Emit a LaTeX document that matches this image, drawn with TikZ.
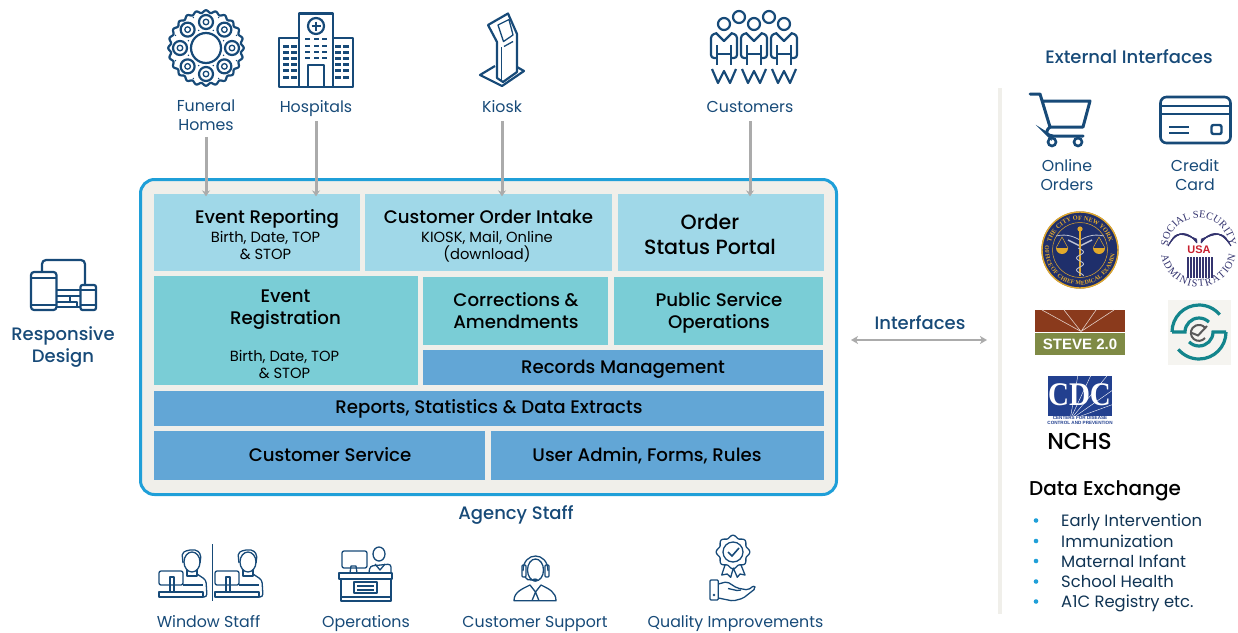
\documentclass[tikz,border=0pt]{standalone}
\usepackage{fontspec}
\setmainfont{Poppins}
\newfontfamily\medfont{Poppins Medium}
\newfontfamily\cdcfont{Liberation Serif}
\newfontfamily\logofont{Liberation Sans}
\usetikzlibrary{arrows.meta,decorations.text}

\definecolor{navy}{HTML}{174A78}
\definecolor{framefill}{HTML}{F0EFEA}
\definecolor{frameblue}{HTML}{1F9FD8}
\definecolor{lightbox}{HTML}{A0D8E8}
\definecolor{tealbox}{HTML}{7ACDD6}
\definecolor{bluebox}{HTML}{62A6D6}
\definecolor{arrowgray}{HTML}{ABABAB}
\definecolor{sealnavy}{HTML}{1F2F6B}
\definecolor{sealgold}{HTML}{E2A92B}
\definecolor{ssablue}{HTML}{34346F}
\definecolor{ssared}{HTML}{C8202F}
\definecolor{stevebrown}{HTML}{8A3A1C}
\definecolor{stevegreen}{HTML}{7F8A45}
\definecolor{cdcblue}{HTML}{22408F}
\definecolor{logoteal}{HTML}{13858C}

\tikzset{
  struts/.style={yshift=-2pt, execute at begin node=\strut, execute at end node=\strut},
  block/.style={rectangle, inner sep=0pt},
  lightblock/.style={block, fill=lightbox},
  tealblock/.style={block, fill=tealbox},
  blueblock/.style={block, fill=bluebox},
  blocktext/.style={inner sep=0pt, struts, align=center, text=black, font=\medfont\fontsize{18.2}{22}\selectfont},
  subtext/.style={inner sep=0pt, struts, align=center, text=black, font=\fontsize{14.7}{17}\selectfont},
  navylabel/.style={inner sep=0pt, struts, align=center, text=navy, font=\fontsize{15.8}{19}\selectfont},
  headlabel/.style={inner sep=0pt, struts, align=center, text=navy, font=\medfont\fontsize{18}{22}\selectfont},
  feed/.style={draw=arrowgray, line width=3pt, shorten >=-2.5pt, -{Stealth[length=6pt,width=8pt,inset=2pt]}},
  icon/.style={draw=navy, line width=2.2pt, line join=round},
  thinicon/.style={draw=navy, line width=1.3pt, line join=round},
}

\begin{document}
\begin{tikzpicture}[x=1pt,y=-1pt]
    \useasboundingbox (0,0) rectangle (1238,632);

    % Main frame
    \node[draw=frameblue, fill=framefill, line width=3pt, rounded corners=14pt, inner sep=0pt, minimum width=696pt, minimum height=315pt] (frame) at (488.5,337) {};

    % Blocks
    \node[lightblock, minimum width=206pt, minimum height=77pt] (report) at (257,232.5) {};
    \node[blocktext] (reporttxt) at (267,217) {Event Reporting};
    \node[subtext] (reportsub) at (265.5,245.5) {Birth, Date, TOP\\\& STOP};
    \node[lightblock, minimum width=247pt, minimum height=77pt] (intake) at (488.5,232.5) {};
    \node[blocktext] (intaketxt) at (488.5,217) {Customer Order Intake};
    \node[subtext] (intakesub) at (487,245.5) {KIOSK, Mail, Online\\(download)};
    \node[lightblock, minimum width=206pt, minimum height=77pt] (portal) at (721,232.5) {};
    \node[blocktext, font=\medfont\fontsize{20.6}{25}\selectfont] (portaltxt) at (710,236.5) {Order\\Status Portal};
    \node[tealblock, minimum width=264pt, minimum height=109pt] (register) at (286,330.5) {};
    \node[blocktext] (registertxt) at (285.5,308) {Event\\Registration};
    \node[subtext] (registersub) at (284.5,364.5) {Birth, Date, TOP\\\& STOP};
    \node[tealblock, minimum width=185pt, minimum height=68pt] (correct) at (515.5,311) {};
    \node[blocktext] (correcttxt) at (516,312) {Corrections \&\\Amendments};
    \node[tealblock, minimum width=209pt, minimum height=68pt] (public) at (718.5,311) {};
    \node[blocktext] (publictxt) at (719,312) {Public Service\\Operations};
    \node[blueblock, minimum width=400pt, minimum height=35pt] (records) at (623,367.5) {};
    \node[blocktext] (recordstxt) at (623,367) {Records Management};
    \node[blueblock, minimum width=670pt, minimum height=35pt] (stats) at (489,408.5) {};
    \node[blocktext] (statstxt) at (489,407) {Reports, Statistics \& Data Extracts};
    \node[blueblock, minimum width=331pt, minimum height=49pt] (service) at (319.5,455.5) {};
    \node[blocktext] (servicetxt) at (330,455) {Customer Service};
    \node[blueblock, minimum width=333pt, minimum height=49pt] (admin) at (657.5,455.5) {};
    \node[blocktext] (admintxt) at (647,455) {User Admin, Forms, Rules};

    % Labels
    \node[navylabel] (funeral) at (206,116) {Funeral\\Homes};
    \node[navylabel] (hospitals) at (316,106.5) {Hospitals};
    \node[navylabel] (kiosk) at (502,106.5) {Kiosk};
    \node[navylabel] (customers) at (750,106.5) {Customers};
    \node[headlabel] (responsive) at (63,346) {Responsive\\Design};
    \node[headlabel] (staff) at (516,513.5) {Agency Staff};
    \node[headlabel] (interfaces) at (920,323) {Interfaces};
    \node[headlabel] (external) at (1129,57) {External Interfaces};
    \node[navylabel] (online) at (1067,176) {Online\\Orders};
    \node[navylabel] (credit) at (1195,176) {Credit\\Card};
    \node[navylabel] (window) at (208.5,621.5) {Window Staff};
    \node[navylabel] (operations) at (366,621.5) {Operations};
    \node[navylabel] (support) at (535,621.5) {Customer Support};
    \node[navylabel] (quality) at (735.5,621.5) {Quality Improvements};

    % Data exchange
    \node[inner sep=0pt, struts, anchor=west, text=black, font=\medfont\fontsize{20}{24}\selectfont] (exchange) at (1029,488.5) {Data Exchange};
    \foreach \name/\ypos/\txt in {early/520.5/Early Intervention, immun/541/Immunization, maternal/561/Maternal Infant, school/581.5/School Health, aonec/601.5/A1C Registry etc.} {
        \node[inner sep=0pt, struts, anchor=west, text=navy!70!black, font=\fontsize{16.4}{20}\selectfont] (\name) at (1061,\ypos) {\txt};
        \fill[frameblue] (1036,\ypos) circle[radius=2.3pt];
    }

    % Connectors
    \draw[feed] (funeral.south) ++(0,0.5) -- (funeral.south |- report.north);
    \draw[feed] (hospitals.south) ++(0,3) -- (hospitals.south |- report.north);
    \draw[feed] (kiosk.south) ++(0,3) -- (kiosk.south |- intake.north);
    \draw[feed] (customers.south) ++(0,3) -- (customers.south |- portal.north);
    \coordinate (ifleft) at (851,340);
    \coordinate (ifright) at (987,340);
    \draw[draw=arrowgray, line width=2.4pt, {Stealth[length=7pt,width=8pt,inset=2pt]}-{Stealth[length=7pt,width=8pt,inset=2pt]}] (ifleft) -- (ifright);

    % Side bar
    \fill[framefill] (998,88) rectangle (1002,614);

    % Funeral wreath
    \draw[icon] plot[domain=0:360,samples=193] ({206+(36.5+1.3*cos(24*\x))*cos(\x)},{48+(36.5+1.3*cos(24*\x))*sin(\x)}) -- cycle;
    \draw[icon] (206,48) circle[radius=15pt];
    \foreach \ang in {0,45,...,315} {
        \draw[icon] ({206+26*cos(\ang)},{48+26*sin(\ang)}) circle[radius=7pt];
        \draw[thinicon] ({206+26*cos(\ang)},{48+26*sin(\ang)}) circle[radius=2.8pt];
        \fill[navy] ({206+19*cos(\ang+22.5)},{48+19*sin(\ang+22.5)}) circle[radius=0.8pt];
        \fill[navy] ({206+33*cos(\ang+22.5)},{48+33*sin(\ang+22.5)}) circle[radius=0.8pt];
    }

    % Hospital
    \draw[icon] (299,38) -- (279,38) -- (279,87) -- (353,87) -- (353,38) -- (333,38);
    \draw[icon] (299,87) -- (299,13.5) -- (333,13.5) -- (333,87);
    \draw[icon] (316,26) circle[radius=8pt];
    \draw[navy, line width=2.2pt] (311.5,26) -- (320.5,26) (316,21.5) -- (316,30.5);
    \draw[icon] (308,87) -- (308,65) -- (324,65) -- (324,87);
    \foreach \yy in {46,52,58,64,70,77} {
        \foreach \xx in {283,291,335,343} {
            \fill[navy] (\xx,\yy-1.5) rectangle ++(6,3);
        }
    }
    \foreach \yy in {39,46,52,58} {
        \foreach \xx in {305,313.5,322} {
            \fill[navy] (\xx,\yy-1.3) rectangle ++(5,2.6);
        }
    }

    % Kiosk
    \draw[icon] (497,78) -- (497,42) -- (488,25) -- (508,13.5) -- (517,34) -- (517,72) -- (503,82) -- cycle;
    \draw[thinicon] (501.5,80) -- (501.5,47);
    \draw[thinicon] (498,25) -- (509,19.5) -- (513,35) -- (503.5,41.5) -- cycle;
    \draw[thinicon] (504,46.5) -- (513,41.5);
    \draw[icon] (495,66) -- (480,75) -- (502,86) -- (524,71) -- (517,67);

    % Customers
    \foreach \xx in {724,754,784} {
        \draw[icon] (\xx,24) circle[radius=6pt];
        \draw[icon, rounded corners=3pt] (\xx-7,58) -- (\xx-13,58) -- (\xx-13,35) -- (\xx-7,33);
        \draw[icon] (\xx-8,33) -- (\xx,41) -- (\xx+8,33);
        \draw[icon, rounded corners=3pt] (\xx+7,33) -- (\xx+13,35) -- (\xx+13,58) -- (\xx+7,58);
        \draw[icon] (\xx-7,45) -- (\xx-7,65) (\xx+7,45) -- (\xx+7,65) (\xx-7,54) -- (\xx+7,54);
        \draw[icon] (\xx-12,69) -- (\xx-6,83) -- (\xx,71) -- (\xx+6,83) -- (\xx+12,69);
    }
    \draw[icon] (739,17) circle[radius=6pt];
    \draw[icon] (769,17) circle[radius=6pt];

    % Devices
    \draw[icon, rounded corners=4pt] (42,272) -- (42,260) -- (85,260) -- (85,285);
    \draw[icon, rounded corners=3pt] (31,272) rectangle (56.5,310);
    \draw[thinicon] (31,278) -- (56.5,278) (31,305) -- (56.5,305);
    \draw[icon, rounded corners=2pt] (80.5,285) rectangle (96,310);
    \draw[thinicon] (80.5,290) -- (96,290) (80.5,305) -- (96,305);
    \draw[thinicon] (56.5,290) -- (80.5,290) (56.5,296) -- (80.5,296) (70,296) -- (70,302) (56.5,302) -- (77,302) -- (77,307) (56.5,307) -- (80.5,307);

    % Window staff
    \draw[navy, line width=1pt] (212,544) -- (212,601);
    \foreach \dx in {0,56} {
        \begin{scope}[xshift=\dx pt]
            \draw[thinicon] (192,562) ellipse[x radius=8pt, y radius=10pt];
            \draw[thinicon, rounded corners=2pt] (183,563) -- (182,553) -- (188,550) -- (197,550) -- (201,555) -- (200,563);
            \draw[thinicon] (187,570) -- (187,576) -- (197,576) -- (197,570);
            \draw[thinicon, rounded corners=2pt] (159,571) rectangle (183,585);
            \draw[thinicon] (170,592) -- (170,577) -- (174,577) -- (174,592);
            \draw[thinicon] (159,592) rectangle (203,597);
            \draw[thinicon, rounded corners=3pt] (197,574) -- (206,580) -- (207,597) -- (203,597);
            \draw[thinicon] (183,585) -- (203,585);
        \end{scope}
    }

    % Operations
    \draw[thinicon, rounded corners=2pt] (342,551) rectangle (367,568);
    \draw[thinicon] (350,573) -- (351,566) -- (356,566) -- (357,573);
    \draw[thinicon] (379,554) ellipse[x radius=6pt, y radius=7pt];
    \draw[thinicon, rounded corners=3pt] (369,573) -- (370,566) -- (391,564) -- (391,573);
    \draw[thinicon] (375,564) -- (380,570) -- (385,564);
    \draw[thinicon] (339,573) rectangle (392,579);
    \draw[thinicon] (341,579) rectangle (391,601);
    \draw[thinicon] (341,597) -- (391,597);
    \draw[thinicon] (354,582) rectangle (377,593);
    \draw[thinicon] (357,586) -- (374,586) (357,590) -- (374,590);

    % Customer support
    \draw[thinicon] (535.5,570) ellipse[x radius=8pt, y radius=11pt];
    \draw[thinicon] (523,571) .. controls (523,551) and (548,551) .. (548,571);
    \draw[thinicon, rounded corners=1pt] (522,565) rectangle (526,577);
    \draw[thinicon, rounded corners=1pt] (545,565) rectangle (549,577);
    \draw[thinicon] (525,577) .. controls (526,580) and (529,580) .. (532,580);
    \fill[navy] (535,580) ellipse[x radius=3pt, y radius=1.6pt];
    \draw[thinicon] (514,600.7) .. controls (514,592) and (522,589) .. (530,585) -- (535.5,592) -- (541,585) .. controls (549,589) and (556,592) .. (556,600.7) -- cycle;
    \draw[thinicon] (535.5,592) -- (532,600.7) (535.5,592) -- (539,600.7);

    % Quality improvements
    \draw[thinicon] plot[domain=0:360,samples=97] ({733+(15.5+1.3*cos(8*\x))*cos(\x)},{552+(15.5+1.3*cos(8*\x))*sin(\x)}) -- cycle;
    \draw[thinicon] (733,552) circle[radius=10pt];
    \draw[navy, line width=1.6pt] (728,552) -- (732,556) -- (739,548);
    \draw[thinicon] (725,565) -- (721.7,575) -- (727.3,574) -- (730.7,577.3) -- (733.3,568) -- (737.3,577.3) -- (740,574) -- (745,575) -- (741,565);
    \draw[thinicon, rounded corners=1pt] (710,580) rectangle (718.3,600);
    \fill[navy] (714,595) circle[radius=1.3pt];
    \draw[thinicon, rounded corners=2pt] (718.3,584) -- (727,581.7) -- (737,588) -- (748,590) -- (754,585.5) -- (755.7,588.3) -- (743,598.3) -- (733,601) -- (718.3,598);
    \draw[thinicon] (728,588.5) -- (737,590.5) -- (741,590);

    % Cart
    \draw[navy, line width=3pt, line cap=round, line join=round] (1030,94) -- (1040,94) -- (1050,127) -- (1083,127) -- (1090,101) -- (1042,101);
    \draw[navy, line width=3pt, line cap=round, rounded corners=4pt] (1050,127) -- (1045,132) -- (1049,136) -- (1083,136);
    \draw[navy, line width=2.6pt] (1052,142) circle[radius=4pt] (1078,142) circle[radius=4pt];

    % Credit card
    \draw[navy, line width=2.6pt, rounded corners=6pt] (1160.5,97) rectangle (1230.5,143);
    \draw[navy, line width=2.2pt] (1160.5,106) -- (1230.5,106) (1160.5,114) -- (1230.5,114);
    \draw[navy, line width=2.2pt] (1169,127) -- (1189,127) (1169,133) -- (1189,133);
    \draw[navy, line width=2.4pt, rounded corners=2pt] (1211.5,125) rectangle (1221.5,134);

    % Medical examiner seal
    \fill[sealnavy] (1080,250) circle[radius=38.5pt];
    \draw[sealgold, line width=1.4pt] (1080,250) circle[radius=38pt];
    \draw[sealgold, line width=0.5pt] (1080,250) circle[radius=27.5pt];
    \path[decorate, decoration={text along path, text align=center, text={|\cdcfont\bfseries\fontsize{6.4}{7}\selectfont\color{sealgold}|THE CITY OF NEW YORK}}] (1050,250) arc[start angle=180, end angle=0, radius=30pt];
    \path[decorate, decoration={text along path, text align=center, text={|\cdcfont\bfseries\fontsize{6}{7}\selectfont\color{sealgold}|OFFICE OF CHIEF MEDICAL EXAMINER}}] (1045.3,254.3) arc[start angle=187, end angle=353, radius=35pt];
    \draw[white!70!sealnavy, line width=0.8pt] (1056,236) .. controls (1068,233) and (1076,238) .. (1080,240) .. controls (1084,238) and (1092,233) .. (1104,236);
    \draw[white!70!sealnavy, line width=1.5pt] (1068,240) -- (1080,246) -- (1092,240);
    \draw[sealgold, line width=1.1pt] (1080,230) -- (1080,276);
    \fill[sealgold] (1080,229) circle[radius=2.6pt];
    \draw[sealgold, line width=0.5pt] (1062,237) -- (1056,248) (1062,237) -- (1068,248) (1099,237) -- (1093,248) (1099,237) -- (1105,248);
    \fill[sealgold] (1056,248) arc[start angle=180, end angle=360, radius=6pt] -- cycle;
    \fill[sealgold] (1093,248) arc[start angle=180, end angle=360, radius=6pt] -- cycle;
    \draw[white!70!sealnavy, line width=0.9pt] plot[domain=248:276,samples=40] ({1080+3.5*cos(30*\x)},\x);

    % Social security seal
    \path[decorate, decoration={text along path, text align=center, text={|\cdcfont\fontsize{10.5}{11}\selectfont\color{ssablue}|SOCIAL SECURITY}}] (1167.5,249) arc[start angle=180, end angle=0, radius=31pt];
    \path[decorate, decoration={text along path, text align=fit to path, text={|\cdcfont\fontsize{10.5}{11}\selectfont\color{ssablue}|ADMINISTRATION}}] (1161.2,255) arc[start angle=189, end angle=351, radius=37.7pt];
    \foreach \wing in {0,3,6,9} {
        \draw[ssablue, line width=1.1pt] (1197,{243-\wing*0.4}) .. controls (1189,{232+\wing*0.5}) and (1178,{228+\wing*0.2}) .. ({1168+\wing*0.5},{246-\wing*0.8});
        \draw[ssablue, line width=1.1pt] (1201,{243-\wing*0.4}) .. controls (1209,{232+\wing*0.5}) and (1220,{228+\wing*0.2}) .. ({1231-\wing*0.5},{246-\wing*0.8});
    }
    \node[inner sep=0pt, text=ssared, font=\logofont\bfseries\fontsize{11}{12}\selectfont] (usa) at (1199,250) {USA};
    \foreach \xx in {1188,1191,...,1212} {
        \draw[ssablue, line width=1.4pt] (\xx,257) -- (\xx,278);
    }

    % STEVE logo
    \fill[stevebrown] (1035,310) rectangle (1125,331.5);
    \fill[stevegreen] (1035,332.5) rectangle (1125,355);
    \draw[white!75!stevebrown, line width=0.6pt] (1081,331.5) -- (1042,310) (1081,331.5) -- (1064,310) (1081,331.5) -- (1096,310) (1081,331.5) -- (1114,310);
    \node[inner sep=0pt, text=white, font=\logofont\bfseries\fontsize{15}{15}\selectfont] (steve) at (1080,344) {STEVE 2.0};

    % Exchange logo
    \fill[framefill!70!white] (1168,300) rectangle (1231,365);
    \draw[logoteal, line width=3.2pt] (1172,332) -- (1185,332) arc[start angle=180, end angle=45, radius=14pt];
    \draw[logoteal, line width=3.2pt] (1172,332) arc[start angle=180, end angle=40, radius=27pt];
    \draw[logoteal, line width=3.2pt] (1226,332) -- (1213,332) arc[start angle=0, end angle=-135, radius=14pt];
    \draw[logoteal, line width=3.2pt] (1226,332) arc[start angle=0, end angle=-140, radius=27pt];
    \draw[black!65, line width=2pt] (1205,338) arc[start angle=-40, end angle=-320, radius=8pt];
    \draw[black!65, line width=2pt] (1192,333) -- (1198,335.5) -- (1207,326);

    % CDC logo
    \fill[cdcblue] (1048,376) rectangle (1112,416);
    \begin{scope}
        \clip (1048,376) rectangle (1112,416);
        \foreach \ang in {-10,5,...,80} {
            \draw[white, line width=0.4pt] (1070,420) -- ++(\ang:70pt);
        }
    \end{scope}
    \node[inner sep=0pt, text=white, xscale=0.88, font=\cdcfont\bfseries\fontsize{33}{33}\selectfont] (cdc) at (1079.5,395) {CDC};
    \node[inner sep=0pt, text=cdcblue, align=center, font=\logofont\bfseries\fontsize{4.6}{5}\selectfont] (cdcname) at (1080,420.5) {CENTERS FOR DISEASE\\CONTROL AND PREVENTION};
    \node[inner sep=0pt, text=black, font=\medfont\fontsize{23}{24}\selectfont] (nchs) at (1079.5,441) {NCHS};
\end{tikzpicture}
\end{document}
